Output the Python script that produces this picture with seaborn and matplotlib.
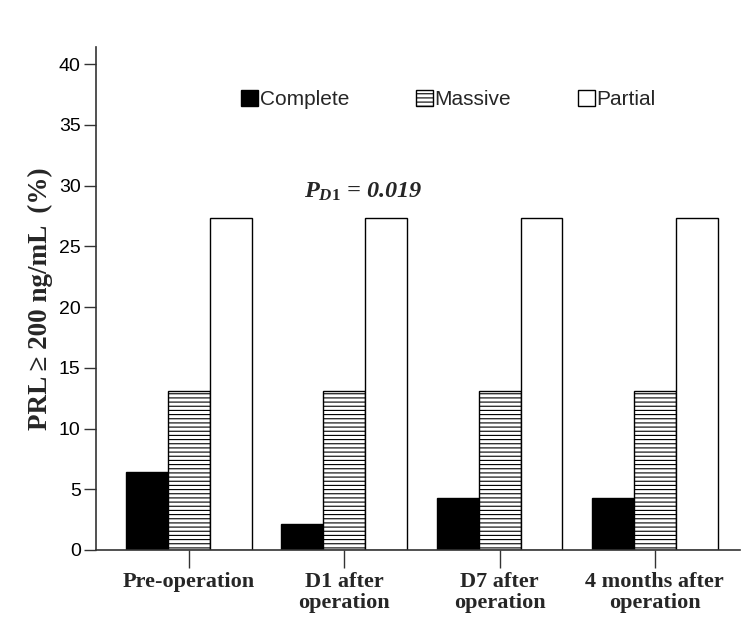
import numpy as np
import pandas as pd
import seaborn as sns
import matplotlib.pyplot as plt

# data
stages = ["Pre-operation", "D1 after\noperation", "D7 after\noperation", "4 months after\noperation"]
groups = ["Complete", "Massive", "Partial"]
complete = [6.4, 2.1, 4.3, 4.3]
massive = [13.1, 13.1, 13.1, 13.1]
partial = [27.3, 27.3, 27.3, 27.3]

df = pd.DataFrame({
    "stage": stages * 3,
    "group": [g for g in groups for _ in stages],
    "value": complete + massive + partial,
})

sns.set_style("white")
plt.rcParams["mathtext.fontset"] = "custom"
plt.rcParams["mathtext.it"] = "Liberation Serif:italic:bold"
plt.rcParams["mathtext.rm"] = "Liberation Serif:bold"
plt.rcParams["hatch.linewidth"] = 0.8

fig = plt.figure(figsize=(7.56, 6.24), dpi=100)
ax = fig.add_axes([0.127, 0.1186, 0.852, 0.806])

sns.barplot(data=df, x="stage", y="value", hue="group", order=stages, hue_order=groups,
            palette=["black", "white", "white"], edgecolor="black", linewidth=1.0,
            width=0.81, saturation=1, ax=ax, legend=False)

for bar in ax.containers[1]:
    bar.set_hatch("----")

ax.set_xlim(-0.6, 3.55)
ax.set_ylim(0, 41.4)
ax.set_yticks(np.arange(0, 41, 5))

for side in ["top", "right"]:
    ax.spines[side].set_visible(False)
for side in ["left", "bottom"]:
    ax.spines[side].set_color("#333333")
    ax.spines[side].set_linewidth(1.2)

ax.tick_params(axis="y", direction="out", length=9, width=1.0, color="#333333",
               labelsize=14, labelcolor="black", left=True, pad=2)
ax.tick_params(axis="x", direction="out", length=13, width=1.0, color="#333333",
               bottom=True, pad=3)
for lab in ax.get_yticklabels():
    lab.set_fontfamily("Liberation Sans")
for lab in ax.get_xticklabels():
    lab.set_fontfamily("Liberation Serif")
    lab.set_fontweight("bold")
    lab.set_fontsize(16)
    lab.set_linespacing(1.05)

ax.set_xlabel("")
ax.set_ylabel("PRL \u2265 200 ng/mL  (%)", fontfamily="Liberation Serif",
              fontweight="bold", fontsize=19.5, labelpad=4)

ax.legend(ax.containers, groups, ncol=3, frameon=False, loc="center left",
          bbox_to_anchor=(0.209, 0.895), borderpad=0, handlelength=0.8,
          handleheight=0.8, handletextpad=0.1, columnspacing=3.2,
          prop={"family": "Liberation Sans", "size": 15})

ax.text(0.74, 29.5, "$P_{D1}$ = 0.019", fontfamily="Liberation Serif",
        fontweight="bold", fontstyle="italic", fontsize=17.5, ha="left", va="center")

fig.savefig("out.png", dpi=100)
